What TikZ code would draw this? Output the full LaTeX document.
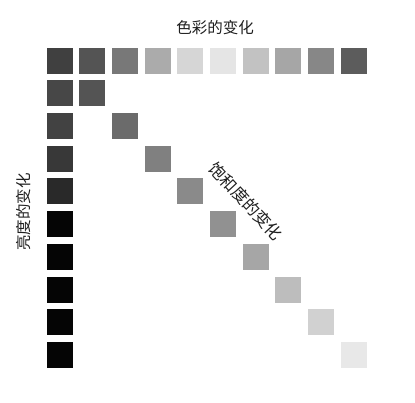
\documentclass[tikz,border=0pt]{standalone}
\usepackage{fontspec}
\newfontfamily\cjk{Noto Sans CJK SC}[Scale=1]
\begin{document}
\begin{tikzpicture}[x=1pt,y=-1pt,
  sq/.style={draw=none,minimum size=26pt,inner sep=0pt,outer sep=0pt},
  lbl/.style={font=\cjk\fontsize{15.5}{15.5}\selectfont,text=black!88,inner sep=0pt}]
\useasboundingbox (0,0) rectangle (415,403);
% top row
\foreach \i/\c in {0/75,1/67,2/53,3/33,4/16,5/10,6/24,7/35,8/47,9/64}
  \node[sq,fill=black!\c] (t\i) at ({59.5+32.7*\i},60.7) {};
% left column
\foreach \j/\c in {1/72,2/74,3/78,4/84,5/98,6/98,7/98,8/98,9/98}
  \node[sq,fill=black!\c] (l\j) at (59.5,{60.7+32.7*\j}) {};
% diagonal
\foreach \k/\c in {1/67,2/58,3/50,4/46,5/43,6/35,7/26,8/18,9/9}
  \node[sq,fill=black!\c] (d\k) at ({59.5+32.7*\k},{60.7+32.7*\k}) {};
\node[lbl] (hue) at (215,28) {色彩的变化};
\node[lbl,rotate=90] (val) at (24,212) {亮度的变化};
\node[lbl,rotate=-47,font=\cjk\fontsize{16.5}{16.5}\selectfont] (sat) at (246,201) {饱和度的变化};
\end{tikzpicture}
\end{document}
